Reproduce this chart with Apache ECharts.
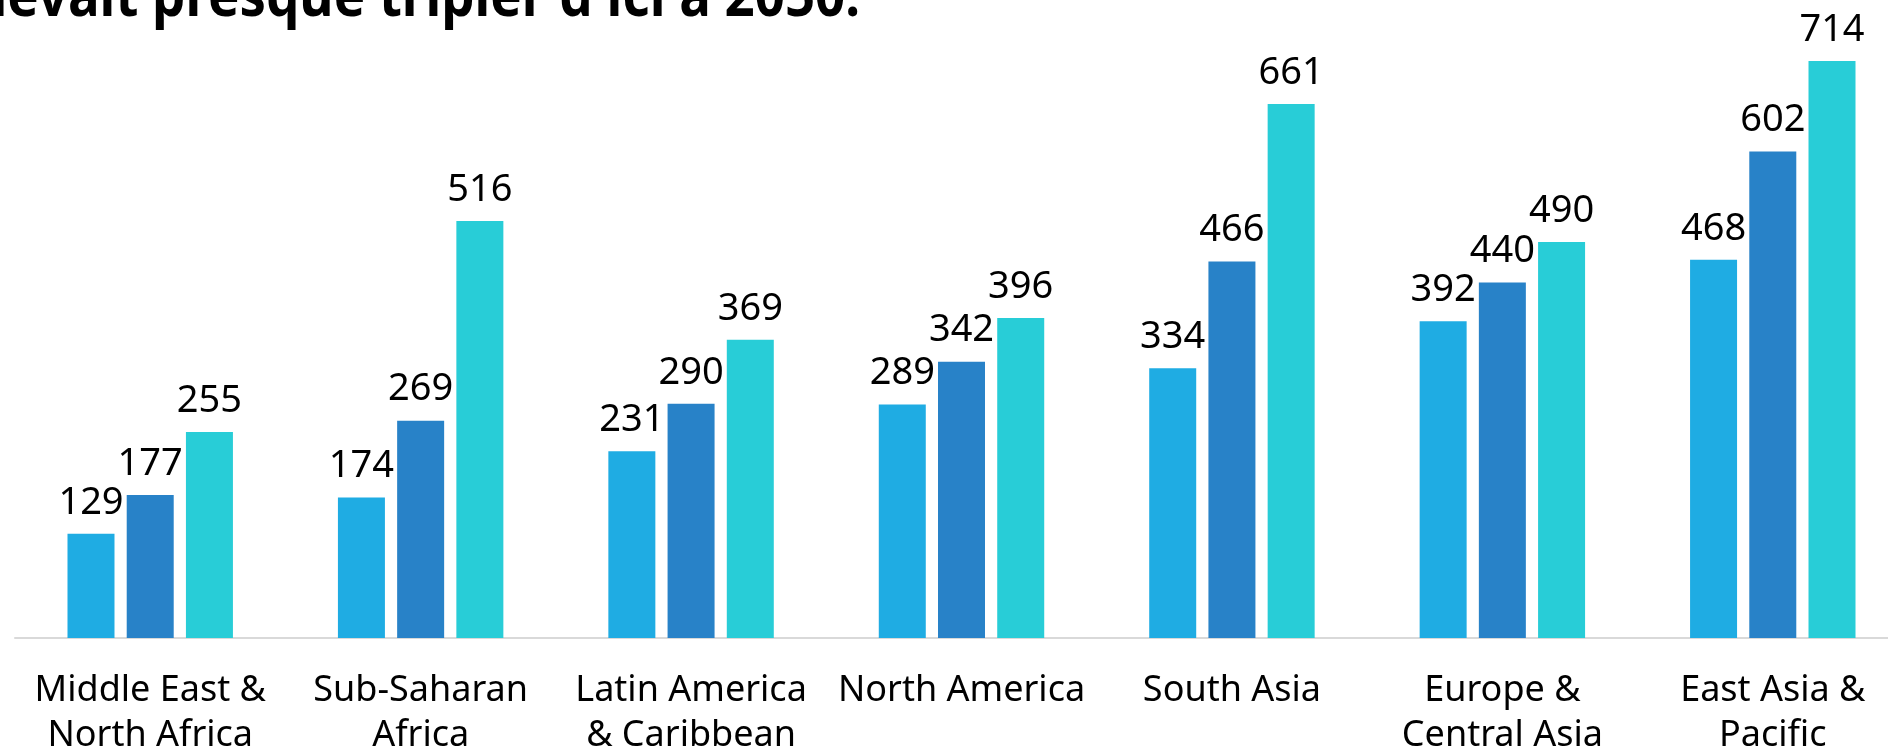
<!DOCTYPE html>
<html>
<head>
<meta charset="utf-8">
<script src="https://cdn.jsdelivr.net/npm/echarts@6/dist/echarts.min.js"></script>
<style>
html,body{margin:0;padding:0;background:#fff;}
#chart{width:1888px;height:750px;}
</style>
</head>
<body>
<div id="chart"></div>
<script>
const categories = ["Middle East &\nNorth Africa", "Sub-Saharan\nAfrica", "Latin America\n& Caribbean", "North America", "South Asia", "Europe &\nCentral Asia", "East Asia &\nPacific"];
const series1 = [129, 174, 231, 289, 334, 392, 468];
const series2 = [177, 269, 290, 342, 466, 440, 602];
const series3 = [255, 516, 369, 396, 661, 490, 714];
const seriesNames = ["Série 1", "Série 2", "Série 3"];
const titleText = "devait presque tripler d'ici à 2050.";

const colors = ["#1FACE3", "#2882C8", "#28CDD7"];
const labelFont = "'Noto Sans', 'DejaVu Sans', sans-serif";

const chart = echarts.init(document.getElementById('chart'));
function mk(name, data, color) {
  return {
    name: name, type: 'bar', data: data,
    barWidth: 47, barGap: '26%',
    itemStyle: { color: color },
    label: { show: true, position: 'top', distance: 12, color: '#000', fontSize: 38, fontFamily: labelFont }
  };
}
chart.setOption({
  animation: false,
  graphic: [{
    type: 'text', x: -26, y: -31, scaleX: 0.88, scaleY: 1,
    style: { text: titleText, font: "bold 60px 'Noto Sans', sans-serif", fill: '#000' }
  }],
  grid: { left: 15, width: 1893, top: 32, bottom: 112, outerBoundsMode: 'none', containLabel: false },
  xAxis: {
    type: 'category', data: categories,
    axisTick: { show: false },
    axisLine: { lineStyle: { color: '#D9D9D9', width: 2 } },
    axisLabel: { color: '#000', fontSize: 36, lineHeight: 45, margin: 30, fontFamily: labelFont, interval: 0 }
  },
  yAxis: { type: 'value', min: 0, max: 750, show: false, splitLine: { show: false } },
  series: [mk(seriesNames[0], series1, colors[0]), mk(seriesNames[1], series2, colors[1]), mk(seriesNames[2], series3, colors[2])]
});
</script>
</body>
</html>
